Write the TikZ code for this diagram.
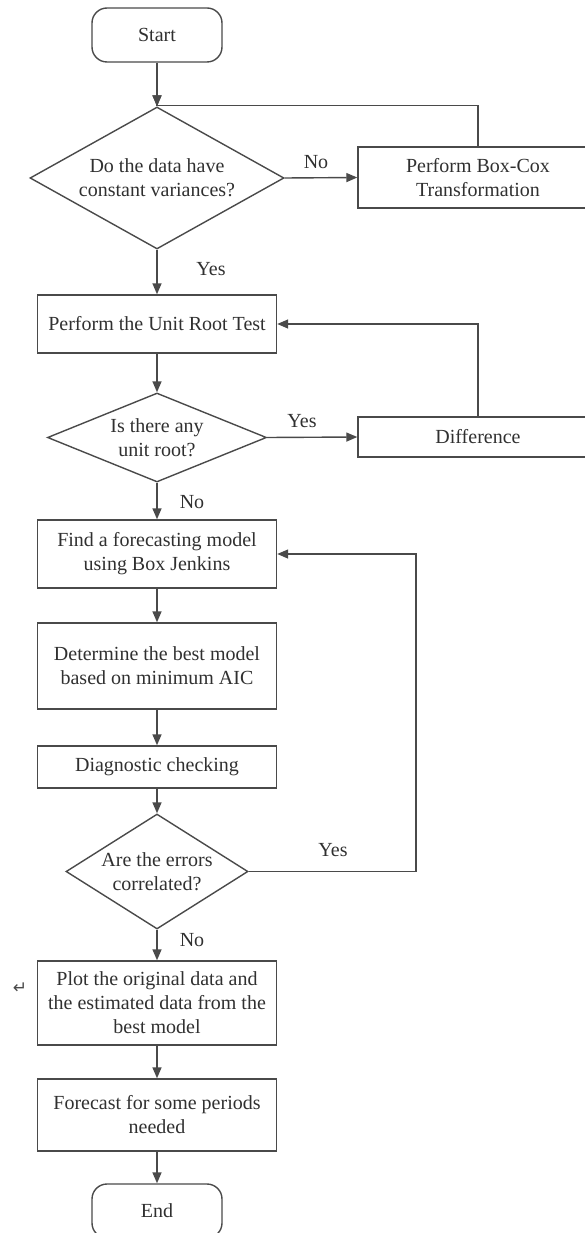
\documentclass[tikz,border=0pt]{standalone}
\usepackage{fontspec}
\setmainfont{Liberation Serif}
\newfontfamily\symfont{DejaVu Sans}
\usetikzlibrary{shapes.geometric,arrows.meta}
\definecolor{ln}{HTML}{4A4A4A}
\definecolor{tx}{HTML}{303030}
\begin{document}
\begin{tikzpicture}[x=1pt,y=-1pt,
  font=\fontsize{20}{24}\selectfont,
  every node/.style={text=tx},
  box/.style={draw=ln, line width=1.4pt, rectangle, minimum width=239pt, align=center, inner sep=0pt},
  term/.style={draw=ln, line width=1.4pt, rounded corners=15pt, minimum width=130pt, minimum height=54pt, align=center, inner sep=0pt},
  dec/.style={draw=ln, line width=1.4pt, diamond, align=center, inner sep=0pt},
  conn/.style={draw=ln, line width=1.4pt, -{Triangle[length=11pt,width=9pt]}},
  lbl/.style={anchor=center, inner sep=0pt}]
\useasboundingbox (0,0) rectangle (584,1233);

% nodes
\node[term] (start) at (157,35) {Start};
\node[dec, minimum width=254pt, minimum height=142pt, aspect=1.79] (d1) at (157,178) {Do the data have\\constant variances?};
\node[box, minimum width=240pt, minimum height=61pt] (boxcox) at (478,177.5) {Perform Box-Cox\\Transformation};
\node[box, minimum height=58pt] (unit) at (157,324) {Perform the Unit Root Test};
\node[dec, minimum width=219pt, minimum height=89pt, aspect=2.46] (d2) at (157,437.5) {Is there any\\unit root?};
\node[box, minimum width=240pt, minimum height=40pt] (diff) at (478,437) {Difference};
\node[box, minimum height=68pt] (find) at (157,554) {Find a forecasting model\\using Box Jenkins};
\node[box, minimum height=86pt] (det) at (157,666) {Determine the best model\\based on minimum AIC};
\node[box, minimum height=42pt] (diag) at (157,767) {Diagnostic checking};
\node[dec, minimum width=182pt, minimum height=115pt, aspect=1.58] (d3) at (157,871.5) {Are the errors\\correlated?};
\node[box, minimum height=84pt] (plot) at (157,1003) {Plot the original data and\\the estimated data from the\\best model};
\node[box, minimum height=72pt] (fore) at (157,1115) {Forecast for some periods\\needed};
\node[term] (end) at (157,1211) {End};
\node[lbl, text=ln] (mark) at (20,988) {\symfont\fontsize{17}{17}\selectfont ↵};

% labels
\node[lbl] (no1) at (316,162) {No};
\node[lbl] (yes1) at (211,269) {Yes};
\node[lbl] (yes2) at (302,421) {Yes};
\node[lbl] (no2) at (192,502) {No};
\node[lbl] (yes3) at (333,850) {Yes};
\node[lbl] (no3) at (192,940) {No};

\coordinate (r3) at (416,554);

% connectors
\draw[conn] (start) -- (d1.north);
\draw[conn] (d1.east) -- (boxcox.west);
\draw[conn] (boxcox.north) -- ++(0,-41) -| (d1.north);
\draw[conn] (d1.south) -- (unit.north);
\draw[conn] (unit.south) -- (d2.north);
\draw[conn] (d2.east) -- (diff.west);
\draw[conn] (diff.north) |- (unit.east);
\draw[conn] (d2.south) -- (find.north);
\draw[conn] (find.south) -- (det.north);
\draw[conn] (det.south) -- (diag.north);
\draw[conn] (diag.south) -- (d3.north);
\draw[conn] (d3.east) -| (r3) -- (find.east);
\draw[conn] (d3.south) -- (plot.north);
\draw[conn] (plot.south) -- (fore.north);
\draw[conn] (fore.south) -- (end.north);
\end{tikzpicture}
\end{document}
